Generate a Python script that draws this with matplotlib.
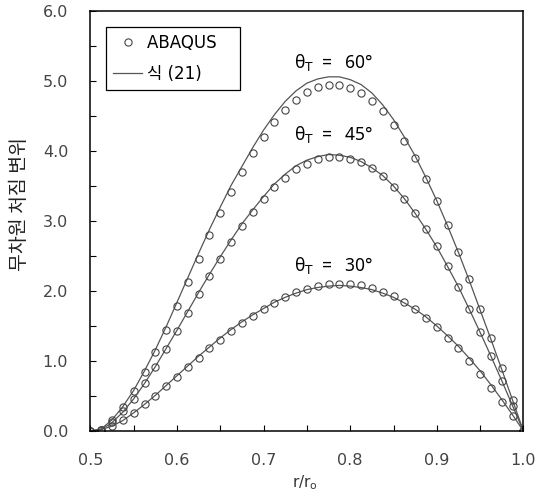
import numpy as np
import matplotlib
matplotlib.use('Agg')
import matplotlib.pyplot as plt
from matplotlib.ticker import MultipleLocator

plt.rcParams['font.family'] = ['DejaVu Sans', 'Noto Sans CJK KR']

# r/ro positions of the ABAQUS points (and the equation curve samples)
r = [0.5 + 0.0125 * k for k in range(41)]

# ABAQUS results
abaqus_60 = [0.00, 0.02, 0.15, 0.34, 0.57, 0.84, 1.13, 1.45, 1.79, 2.13,
             2.46, 2.80, 3.11, 3.42, 3.70, 3.97, 4.20, 4.41, 4.58, 4.73,
             4.84, 4.91, 4.95, 4.95, 4.90, 4.83, 4.71, 4.57, 4.37, 4.15,
             3.90, 3.60, 3.29, 2.94, 2.56, 2.17, 1.75, 1.33, 0.90, 0.44, 0.00]
abaqus_45 = [0.00, 0.02, 0.13, 0.28, 0.46, 0.68, 0.91, 1.17, 1.43, 1.69,
             1.96, 2.22, 2.46, 2.70, 2.93, 3.13, 3.31, 3.48, 3.62, 3.74,
             3.82, 3.88, 3.91, 3.91, 3.89, 3.85, 3.76, 3.64, 3.49, 3.32,
             3.11, 2.88, 2.64, 2.36, 2.06, 1.74, 1.42, 1.07, 0.72, 0.36, 0.00]
abaqus_30 = [0.00, 0.02, 0.07, 0.15, 0.26, 0.38, 0.50, 0.64, 0.77, 0.91,
             1.04, 1.18, 1.30, 1.43, 1.54, 1.65, 1.75, 1.83, 1.91, 1.98,
             2.03, 2.07, 2.10, 2.10, 2.10, 2.08, 2.05, 1.99, 1.93, 1.84,
             1.74, 1.62, 1.48, 1.33, 1.18, 1.00, 0.81, 0.62, 0.41, 0.21, 0.00]

# eq. (21)
eq_60 = [0.00, 0.03, 0.16, 0.35, 0.58, 0.86, 1.16, 1.49, 1.84, 2.19,
         2.54, 2.88, 3.20, 3.51, 3.78, 4.05, 4.30, 4.52, 4.71, 4.86,
         4.97, 5.03, 5.06, 5.06, 5.02, 4.95, 4.83, 4.66, 4.45, 4.20,
         3.93, 3.62, 3.29, 2.93, 2.55, 2.15, 1.73, 1.31, 0.88, 0.44, 0.00]
eq_45 = [0.00, 0.02, 0.12, 0.27, 0.46, 0.68, 0.92, 1.18, 1.44, 1.71,
         1.98, 2.24, 2.49, 2.73, 2.96, 3.16, 3.35, 3.53, 3.67, 3.79,
         3.87, 3.92, 3.95, 3.94, 3.91, 3.85, 3.76, 3.65, 3.50, 3.32,
         3.11, 2.88, 2.63, 2.35, 2.06, 1.74, 1.41, 1.07, 0.72, 0.36, 0.00]
eq_30 = [0.00, 0.02, 0.07, 0.15, 0.26, 0.38, 0.51, 0.65, 0.79, 0.93,
         1.07, 1.20, 1.33, 1.45, 1.56, 1.66, 1.75, 1.84, 1.91, 1.97,
         2.02, 2.05, 2.07, 2.08, 2.07, 2.05, 2.02, 1.97, 1.91, 1.83,
         1.74, 1.63, 1.50, 1.36, 1.21, 1.04, 0.86, 0.66, 0.45, 0.23, 0.00]

angle_labels = ['60°', '45°', '30°']
label_pos = [(0.7813, 5.27), (0.7813, 4.23), (0.7813, 2.37)]

fig = plt.figure(figsize=(5.43, 4.97), dpi=100)
ax = fig.add_axes([0.1665, 0.1328, 0.7974, 0.8450])

line_col = '#555555'
mark_col = '#444444'

for i, (ab, eq) in enumerate([(abaqus_60, eq_60), (abaqus_45, eq_45), (abaqus_30, eq_30)]):
    ax.plot(r, eq, '-', color=line_col, lw=0.9,
            label='식 (21)' if i == 0 else None)
    ax.plot(r, ab, 'o', ms=5.2, mfc='none', mec=mark_col, mew=0.8,
            label='ABAQUS' if i == 0 else None)

for txt, (x, y) in zip(angle_labels, label_pos):
    ax.text(x, y, r'θ$_\mathrm{T}$  =   ' + txt, ha='center', va='center',
            fontsize=12.5, family='Noto Sans')

ax.set_xlim(0.5, 1.0)
ax.set_ylim(0, 6)
ax.xaxis.set_major_locator(MultipleLocator(0.1))
ax.xaxis.set_minor_locator(MultipleLocator(0.05))
ax.yaxis.set_major_locator(MultipleLocator(1.0))
ax.yaxis.set_minor_locator(MultipleLocator(0.5))
ax.xaxis.set_major_formatter(plt.FormatStrFormatter('%.1f'))
ax.yaxis.set_major_formatter(plt.FormatStrFormatter('%.1f'))
ax.tick_params(which='both', direction='in', length=4, width=0.8,
               top=False, right=False)
ax.tick_params(which='major', labelsize=11.5, labelcolor='#444444', pad=16)
for s in ax.spines.values():
    s.set_linewidth(1.1)

ax.set_xlabel('r/r$_\\mathrm{o}$', fontsize=11, color='#333333')
ax.xaxis.set_label_coords(0.495, -0.10)
ax.set_ylabel('무차원 처짐 변위', fontsize=14, family='Noto Sans CJK KR',
              color='#222222')
ax.yaxis.set_label_coords(-0.14, 0.54)

handles, labels = ax.get_legend_handles_labels()
order = [1, 0]
leg = ax.legend([handles[i] for i in order],
                [labels[i] + '   ' for i in order],
                loc='upper left', bbox_to_anchor=(0.036, 0.963),
                fontsize=12, frameon=True, fancybox=False, framealpha=1,
                edgecolor='black', borderpad=0.45, labelspacing=0.75,
                handlelength=1.7, handletextpad=0.3, borderaxespad=0)
leg.get_frame().set_linewidth(0.9)

fig.savefig('out.png', dpi=100)
